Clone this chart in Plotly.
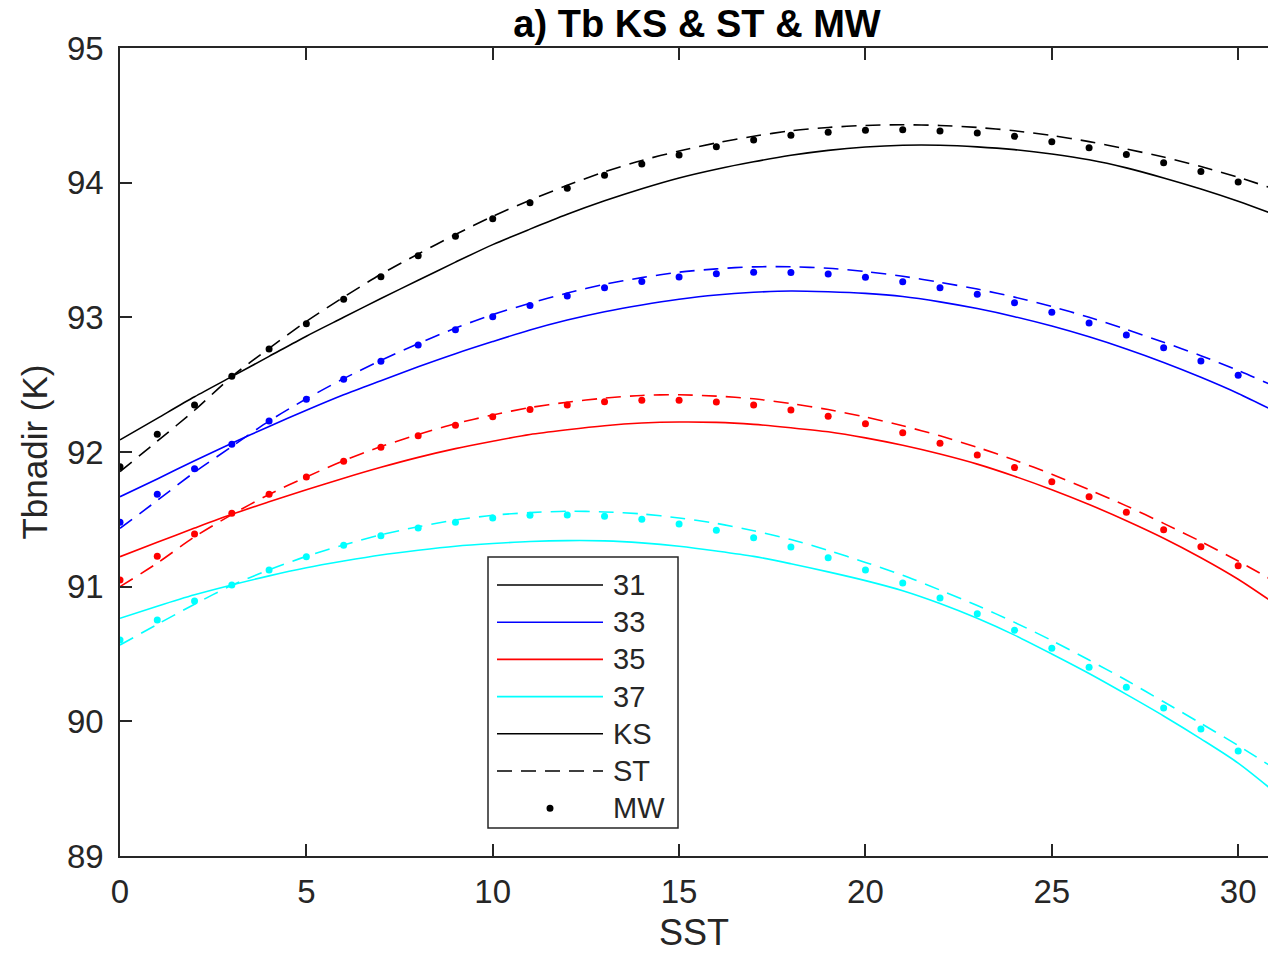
import plotly.graph_objects as go

# ---------------------------------------------------------------- data
sst_mw = list(range(0, 31))    # SST sample points of the MW model
sst_fit = list(range(0, 32))   # SST grid of the KS / ST curves

channels = ["31", "33", "35", "37"]
colors = ["#000000", "#0000FF", "#FF0000", "#00FFFF"]

ks_31 = [92.09, 92.25, 92.41, 92.56, 92.71, 92.86, 93.00, 93.14, 93.275, 93.41,
         93.54, 93.655, 93.765, 93.865, 93.955, 94.035, 94.10, 94.155, 94.203, 94.24,
         94.265, 94.278, 94.278, 94.266, 94.245, 94.213, 94.17, 94.11, 94.035, 93.953,
         93.862, 93.76]
ks_33 = [91.668, 91.80, 91.935, 92.065, 92.19, 92.31, 92.425, 92.53, 92.633, 92.73,
         92.82, 92.906, 92.98, 93.042, 93.092, 93.134, 93.166, 93.186, 93.196, 93.19,
         93.178, 93.155, 93.115, 93.065, 93.005, 92.935, 92.855, 92.765, 92.665, 92.555,
         92.435, 92.30]
ks_35 = [91.223, 91.33, 91.435, 91.537, 91.63, 91.72, 91.805, 91.886, 91.96, 92.025,
         92.08, 92.13, 92.165, 92.195, 92.215, 92.223, 92.22, 92.205, 92.18, 92.15,
         92.105, 92.05, 91.985, 91.91, 91.82, 91.72, 91.61, 91.49, 91.36, 91.215,
         91.055, 90.87]
ks_37 = [90.765, 90.855, 90.94, 91.013, 91.08, 91.14, 91.19, 91.235, 91.27, 91.30,
         91.32, 91.335, 91.342, 91.34, 91.325, 91.30, 91.265, 91.225, 91.17, 91.11,
         91.045, 90.97, 90.875, 90.765, 90.64, 90.50, 90.355, 90.20, 90.04, 89.87,
         89.69, 89.47]

st_31 = [91.855, 92.08, 92.31, 92.56, 92.77, 92.97, 93.15, 93.32, 93.47, 93.615,
         93.75, 93.87, 93.98, 94.08, 94.165, 94.235, 94.295, 94.345, 94.385, 94.41,
         94.425, 94.43, 94.425, 94.41, 94.385, 94.35, 94.305, 94.25, 94.19, 94.12,
         94.04, 93.95]
st_33 = [91.433, 91.64, 91.85, 92.04, 92.23, 92.395, 92.545, 92.68, 92.805, 92.92,
         93.02, 93.105, 93.18, 93.245, 93.295, 93.335, 93.36, 93.375, 93.375, 93.365,
         93.34, 93.305, 93.26, 93.21, 93.15, 93.08, 93.00, 92.91, 92.815, 92.715,
         92.605, 92.485]
st_35 = [91.00, 91.175, 91.37, 91.535, 91.685, 91.815, 91.935, 92.04, 92.13, 92.21,
         92.275, 92.33, 92.37, 92.40, 92.42, 92.425, 92.415, 92.395, 92.36, 92.315,
         92.26, 92.195, 92.12, 92.035, 91.94, 91.835, 91.72, 91.60, 91.47, 91.335,
         91.19, 91.035]
st_37 = [90.567, 90.72, 90.87, 91.01, 91.125, 91.225, 91.31, 91.385, 91.445, 91.495,
         91.53, 91.55, 91.56, 91.555, 91.54, 91.51, 91.47, 91.415, 91.35, 91.27,
         91.18, 91.085, 90.975, 90.86, 90.735, 90.60, 90.455, 90.305, 90.145, 89.985,
         89.82, 89.645]

mw_31 = [91.89, 92.131, 92.349, 92.562, 92.765, 92.953, 93.134, 93.302, 93.458, 93.602,
         93.732, 93.851, 93.958, 94.055, 94.139, 94.205, 94.267, 94.317, 94.352, 94.374,
         94.389, 94.393, 94.384, 94.369, 94.344, 94.304, 94.26, 94.21, 94.148, 94.082,
         94.005]
mw_33 = [91.478, 91.686, 91.876, 92.057, 92.23, 92.391, 92.54, 92.673, 92.795, 92.908,
         93.005, 93.087, 93.158, 93.22, 93.267, 93.30, 93.324, 93.334, 93.332, 93.322,
         93.297, 93.265, 93.22, 93.171, 93.109, 93.037, 92.958, 92.869, 92.775, 92.676,
         92.569]
mw_35 = [91.05, 91.225, 91.391, 91.545, 91.686, 91.814, 91.931, 92.035, 92.121, 92.198,
         92.262, 92.315, 92.349, 92.374, 92.384, 92.384, 92.371, 92.349, 92.312, 92.265,
         92.21, 92.143, 92.065, 91.978, 91.884, 91.78, 91.668, 91.552, 91.423, 91.297,
         91.156]
mw_37 = [90.604, 90.753, 90.894, 91.013, 91.124, 91.223, 91.307, 91.379, 91.436, 91.478,
         91.51, 91.53, 91.532, 91.522, 91.50, 91.465, 91.419, 91.364, 91.295, 91.215,
         91.124, 91.027, 90.916, 90.799, 90.676, 90.542, 90.401, 90.253, 90.099, 89.943,
         89.78]

x_ticks = [0, 5, 10, 15, 20, 25, 30]
y_ticks = [89, 90, 91, 92, 93, 94, 95]
legend_labels = channels + ["KS", "ST", "MW"]

ks_series = [ks_31, ks_33, ks_35, ks_37]
st_series = [st_31, st_33, st_35, st_37]
mw_series = [mw_31, mw_33, mw_35, mw_37]

# ---------------------------------------------------------------- page geometry
W, H = 1268, 953
ML, MR, MT, MB = 120, 0, 48, 97
AXIS_COLOR = "#262626"
FONT = "Liberation Sans, Arial, Helvetica, sans-serif"
DASH = "15px,9px"


def paper_x(px):
    return (px - ML) / (W - ML - MR)


def paper_y(py):
    return (H - MB - py) / (H - MT - MB)


fig = go.Figure()

# model curves
for name, col, ks, st in zip(channels, colors, ks_series, st_series):
    fig.add_trace(go.Scatter(
        x=sst_fit, y=ks, mode="lines", name=f"KS {name}",
        line=dict(color=col, width=1.6, shape="spline", smoothing=0.8),
        showlegend=False, cliponaxis=True))
    fig.add_trace(go.Scatter(
        x=sst_fit, y=st, mode="lines", name=f"ST {name}",
        line=dict(color=col, width=1.6, dash=DASH, shape="spline", smoothing=0.8),
        showlegend=False, cliponaxis=True))

# MW points
for name, col, mw in zip(channels, colors, mw_series):
    fig.add_trace(go.Scatter(
        x=sst_mw, y=mw, mode="markers", name=f"MW {name}",
        marker=dict(color=col, size=7, line=dict(width=0)),
        showlegend=False))

# ---------------------------------------------------------------- legend box
shapes = []
annotations = []
box_l, box_r, box_t, box_b = 488, 678, 557, 828
shapes.append(dict(type="rect", xref="paper", yref="paper",
                   x0=paper_x(box_l), x1=paper_x(box_r),
                   y0=paper_y(box_b), y1=paper_y(box_t),
                   line=dict(color=AXIS_COLOR, width=1.5), fillcolor="white",
                   layer="above"))

row_y0, row_step = 585, 37.2
sample_l, sample_r, text_l = 497, 603, 611
sample_styles = [(c, "solid") for c in colors] + [("#000000", "solid"), ("#000000", DASH), None]
for i, (label, style) in enumerate(zip(legend_labels, sample_styles)):
    yy = paper_y(row_y0 + i * row_step)
    if style is not None:
        col, dash = style
        shapes.append(dict(type="line", xref="paper", yref="paper",
                           x0=paper_x(sample_l), x1=paper_x(sample_r), y0=yy, y1=yy,
                           line=dict(color=col, width=1.6, dash=dash), layer="above"))
    else:
        r = 3.5
        cx = (sample_l + sample_r) / 2
        cy = row_y0 + i * row_step
        shapes.append(dict(type="circle", xref="paper", yref="paper",
                           x0=paper_x(cx - r), x1=paper_x(cx + r),
                           y0=paper_y(cy + r), y1=paper_y(cy - r),
                           fillcolor="#000000", line=dict(width=0), layer="above"))
    annotations.append(dict(xref="paper", yref="paper", x=paper_x(text_l), y=yy,
                            text=label, showarrow=False, xanchor="left", yanchor="middle",
                            font=dict(family=FONT, size=29, color=AXIS_COLOR)))

fig.update_layout(
    width=W, height=H,
    margin=dict(l=ML, r=MR, t=MT, b=MB, autoexpand=False),
    paper_bgcolor="white", plot_bgcolor="white",
    font=dict(family=FONT, color=AXIS_COLOR),
    title=dict(text="<b>a) Tb KS & ST & MW</b>", x=697 / W,
               xanchor="center", y=1 - 24 / H, yanchor="middle",
               font=dict(family=FONT, size=38, color="#000000")),
    xaxis=dict(range=[0, 30.8], tickvals=x_ticks, ticktext=[str(v) for v in x_ticks],
               ticks="inside", ticklen=12, tickwidth=1.5, tickcolor=AXIS_COLOR,
               showline=True, linecolor=AXIS_COLOR, linewidth=1.5, mirror="ticks",
               showgrid=False, zeroline=False, automargin=True,
               tickfont=dict(family=FONT, size=33, color=AXIS_COLOR),
               ticklabelstandoff=6,
               title=dict(text="SST", standoff=10,
                          font=dict(family=FONT, size=36, color=AXIS_COLOR))),
    yaxis=dict(range=[89, 95], tickvals=y_ticks, ticktext=[str(v) for v in y_ticks],
               ticks="inside", ticklen=12, tickwidth=1.5, tickcolor=AXIS_COLOR,
               showline=True, linecolor=AXIS_COLOR, linewidth=1.5, mirror=False,
               showgrid=False, zeroline=False, automargin=False,
               tickfont=dict(family=FONT, size=33, color=AXIS_COLOR),
               ticklabelstandoff=8,
               title=dict(text="Tbnadir (K)", standoff=9,
                          font=dict(family=FONT, size=35, color=AXIS_COLOR))),
    shapes=shapes,
    annotations=annotations,
)

fig.write_html("out.html")
